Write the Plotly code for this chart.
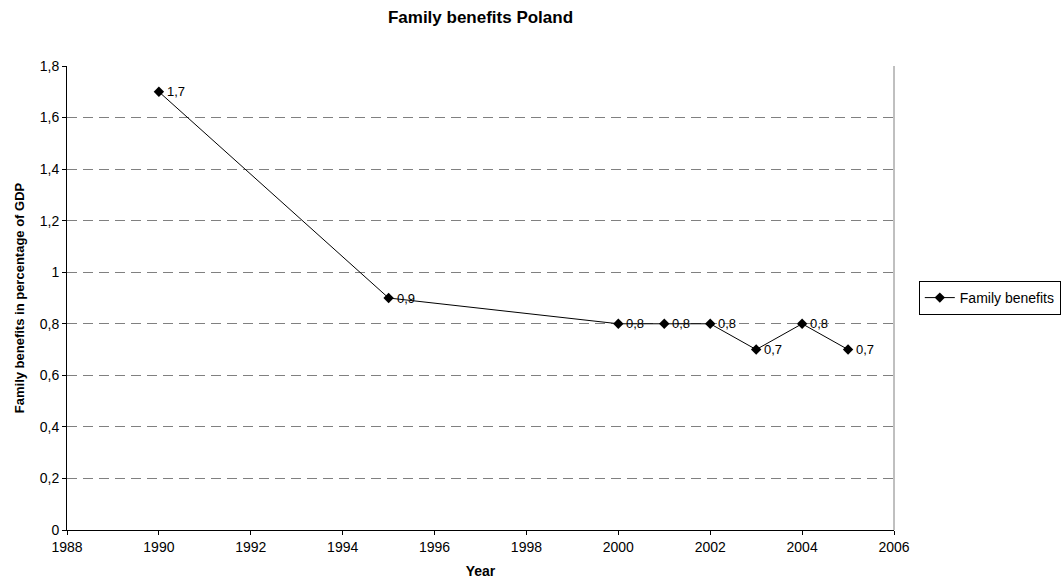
import plotly.graph_objects as go

years = [1990, 1995, 2000, 2001, 2002, 2003, 2004, 2005]
benefits = [1.7, 0.9, 0.8, 0.8, 0.8, 0.7, 0.8, 0.7]
labels = [f"{v:.1f}".replace(".", ",") for v in benefits]

font = "Liberation Sans, Arial, sans-serif"
W, H = 1063, 580

fig = go.Figure()
fig.add_trace(go.Scatter(
    x=years, y=benefits, mode="lines+markers",
    name="Family benefits",
    line=dict(color="black", width=1),
    marker=dict(symbol="diamond", size=8, color="black"),
))

# value labels to the right of each point
for x, y, t in zip(years, benefits, labels):
    fig.add_annotation(x=x, y=y, text=t, showarrow=False,
                       xanchor="left", yanchor="middle", xshift=6,
                       font=dict(family=font, size=13, color="black"))

fig.update_layout(
    width=W, height=H,
    margin=dict(l=67, r=169, t=66, b=50, autoexpand=False),
    paper_bgcolor="white", plot_bgcolor="white",
    separators=",.",
    font=dict(family=font, size=13, color="black"),
    title=dict(text="<b>Family benefits Poland</b>", x=0.5, xanchor="center",
               xref="paper", y=1 - 17 / H, yanchor="middle",
               font=dict(size=17, family=font)),
    showlegend=True,
    legend=dict(x=1.03, xanchor="left", y=0.5, yanchor="middle",
                bordercolor="black", borderwidth=1,
                font=dict(size=14, family=font),
                tracegroupgap=0, itemwidth=30),
    xaxis=dict(range=[1988, 2006], dtick=2, tick0=1988,
               showgrid=False, showline=True, linecolor="black", linewidth=1,
               ticks="outside", ticklen=4, tickcolor="black",
               tickfont=dict(size=14),
               zeroline=False,
               title=dict(text="<b>Year</b>", font=dict(size=14), standoff=12)),
    yaxis=dict(range=[0, 1.8], dtick=0.2, tick0=0, tickformat=".1~f",
               showgrid=True, gridcolor="#808080", griddash="10px,6px", gridwidth=1,
               showline=True, linecolor="black", linewidth=1,
               ticks="outside", ticklen=4, tickcolor="black",
               tickfont=dict(size=14),
               zeroline=False,
               title=dict(text="<b>Family benefits in percentage of GDP</b>",
                          font=dict(size=13), standoff=12)),
)

# right border of the plotting area
fig.add_shape(type="line", xref="paper", yref="paper", x0=1, x1=1, y0=0, y1=1,
              line=dict(color="#808080", width=1))

fig.write_html("out.html")
